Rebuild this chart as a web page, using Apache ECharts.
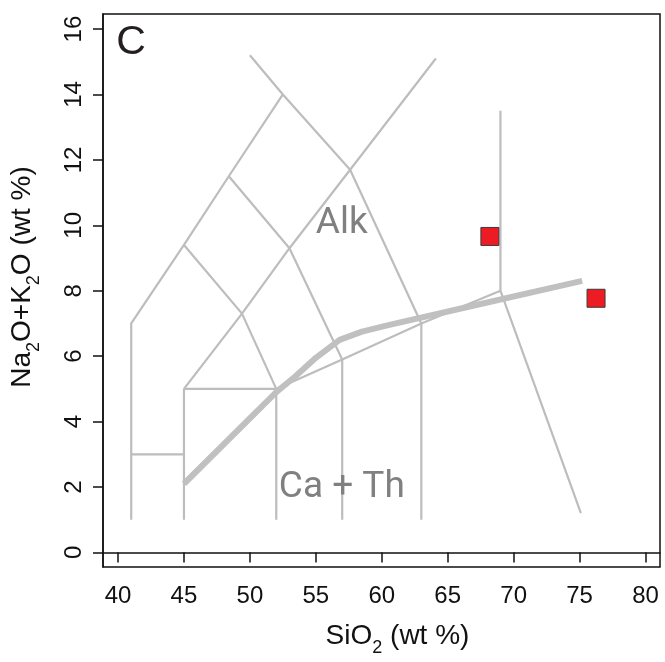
<!DOCTYPE html>
<html>
<head>
<meta charset="utf-8">
<script src="https://cdn.jsdelivr.net/npm/echarts@6/dist/echarts.min.js"></script>
<style>
html, body { margin: 0; padding: 0; background: #fff; }
#tas { width: 665px; height: 662px; }
</style>
</head>
<body>
<div id="tas"></div>
<script>
// tick labels
var xTicks = [40, 45, 50, 55, 60, 65, 70, 75, 80];
var yTicks = [0, 2, 4, 6, 8, 10, 12, 14, 16];

// TAS field boundaries (SiO2, Na2O+K2O)
var lineA = [[41, 1], [41, 7], [45, 9.4], [48.4, 11.5], [52.5, 14], [50, 15.2]];
var lineB = [[41, 3], [45, 3]];
var lineC = [[45, 1], [45, 5], [52, 5], [52, 1]];
var lineD = [[45, 5], [49.4, 7.3], [53, 9.3], [57.6, 11.7], [64.1, 15.1]];
var lineE = [[45, 9.4], [49.4, 7.3], [52, 5]];
var lineF = [[48.4, 11.5], [53, 9.3], [57, 5.9], [57, 1]];
var lineG = [[52.5, 14], [57.6, 11.7], [63, 7], [63, 1]];
var lineH = [[52, 5], [57, 5.9], [63, 7], [69, 8]];
var lineI = [[69, 13.5], [69, 8], [75.1, 1.2]];

// alkaline / subalkaline divide (thick)
var divide = [[45, 2.1], [52, 4.9], [53.5, 5.4], [55, 5.95], [56.8, 6.5], [58.5, 6.75], [60.5, 6.95], [67, 7.55], [75.2, 8.3]];

// samples
var sampleSiO2 = [68.2, 76.25];
var sampleAlk = [9.66, 7.77];

// field labels
var fieldLabels = [
	{ name: 'Alk', value: [56.97, 10.04] },
	{ name: 'Ca + Th', value: [56.97, 1.99] }
];

var fontFam = '"Liberation Sans", Arial, sans-serif';

var tas = {
	thin : function (pts){
		return {
			type: 'line',
			data: pts,
			symbol: 'none',
			silent: true,
			lineStyle: { color: '#bdbdbd', width: 2.2 },
			z: 2
		};
	},

	build : function (){
		var series = [];
		[lineA, lineB, lineC, lineD, lineE, lineF, lineG, lineH, lineI].forEach(function (l){
			series.push(tas.thin(l));
		});
		series.push({
			type: 'line',
			data: divide,
			symbol: 'none',
			silent: true,
			lineStyle: { color: '#c0c0c0', width: 6, cap: 'butt', join: 'round' },
			z: 3
		});
		series.push({
			type: 'scatter',
			data: fieldLabels,
			symbolSize: 0,
			silent: true,
			itemStyle: { opacity: 1 },
			label: {
				show: true,
				position: 'inside',
				formatter: '{b}',
				color: '#808080',
				fontFamily: 'Roboto, sans-serif',
				fontSize: 37
			},
			z: 4
		});
		series.push({
			type: 'scatter',
			data: [{ name: 'C', value: [40.99, 15.57] }],
			symbolSize: 0,
			silent: true,
			itemStyle: { opacity: 1 },
			label: {
				show: true,
				position: 'inside',
				formatter: '{b}',
				color: '#231f20',
				fontFamily: fontFam,
				fontSize: 41
			},
			z: 4
		});
		series.push({
			type: 'scatter',
			data: sampleSiO2.map(function (v, i){ return [v, sampleAlk[i]]; }),
			symbol: 'rect',
			symbolSize: 18,
			itemStyle: { color: '#ed1c24', borderColor: '#3a3a3a', borderWidth: 1, opacity: 1 },
			z: 5
		});
		return series;
	},

	show : function (){
		var chart = echarts.init(document.getElementById('tas'), null, { renderer: 'canvas' });
		var options = {
			animation: false,
			backgroundColor: '#fff',
			grid: {
				left: 103, top: 14, right: 5, bottom: 94,
				show: true, borderColor: '#111', borderWidth: 1.5
			},
			xAxis: {
				type: 'value',
				min: 38.86, max: 81.1,
				name: 'SiO{sub|2} (wt %)',
				nameLocation: 'middle',
				nameGap: 48,
				nameTextStyle: {
					fontFamily: fontFam, fontSize: 28, color: '#111',
					padding: [0, 0, 0, 32],
					rich: { sub: { fontSize: 18, fontFamily: fontFam, color: '#111', verticalAlign: 'bottom', lineHeight: 42 } }
				},
				axisLine: { show: true, lineStyle: { color: '#111', width: 1.5 } },
				axisTick: { show: true, customValues: xTicks, length: 10, lineStyle: { color: '#111', width: 1.5 } },
				axisLabel: { customValues: xTicks, margin: 17, fontFamily: fontFam, fontSize: 24, color: '#111' },
				splitLine: { show: false }
			},
			yAxis: {
				type: 'value',
				min: -0.445, max: 16.46,
				name: 'Na{sub|2}O+K{sub|2}O (wt %)',
				nameLocation: 'middle',
				nameGap: 60,
				nameTextStyle: {
					fontFamily: fontFam, fontSize: 28, color: '#111',
					padding: [0, 0, 0, 27],
					rich: { sub: { fontSize: 18, fontFamily: fontFam, color: '#111', verticalAlign: 'bottom', lineHeight: 42 } }
				},
				axisLine: { show: true, lineStyle: { color: '#111', width: 1.5 } },
				axisTick: { show: true, customValues: yTicks, length: 10, lineStyle: { color: '#111', width: 1.5 } },
				axisLabel: { customValues: yTicks, rotate: 90, margin: 17, fontFamily: fontFam, fontSize: 24, color: '#111' },
				splitLine: { show: false }
			},
			series: tas.build()
		};
		chart.setOption(options);
	}
};

tas.show();
</script>
</body>
</html>
